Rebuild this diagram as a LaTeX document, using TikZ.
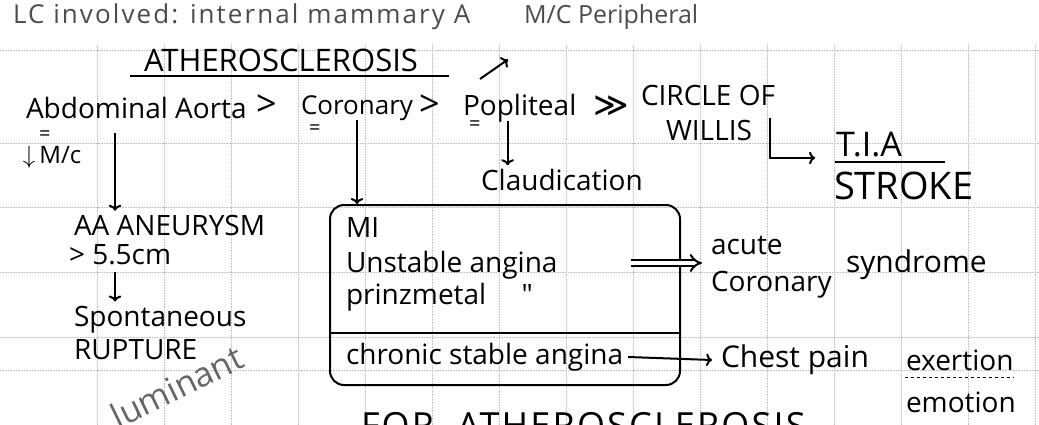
\documentclass[tikz,border=0pt]{standalone}
\usepackage{amsmath}
\usepackage{fontspec}
\usepackage{tikz}
\usetikzlibrary{arrows.meta}
\newfontfamily\handfont{Open Sans}
\newfontfamily\symbfont{DejaVu Sans}

\begin{document}
\begin{tikzpicture}[x=1pt,y=-1pt,>=To,line width=2pt]
\tikzstyle{hw}=[anchor=west,inner sep=0pt,text=black,font=\handfont\fontsize{28}{30}\selectfont]
\tikzstyle{hwbig}=[hw,font=\handfont\fontsize{36}{38}\selectfont]
\tikzstyle{hwsmall}=[hw,font=\handfont\fontsize{20}{22}\selectfont]
\tikzstyle{faded}=[hw,text=black!70,font=\handfont\addfontfeature{LetterSpace=8}\fontsize{26}{28}\selectfont]
\tikzstyle{gridline}=[draw=black!25,line width=0.6pt,densely dotted]
\clip (0,0) rectangle (1039,425);
\fill[white] (0,0) rectangle (1039,425);
% squared paper
\foreach \gx in {97,164,231,298,365,432,499,566,633,700,767,834,901,968,1035}
  \draw[gridline] (\gx,45) -- (\gx,425);
\foreach \gy in {50,143,207,272,337,370}
  \draw[gridline] (0,\gy) -- (1039,\gy);
% top line
\node[faded] (lc) at (12,17) {LC involved: internal mammary A};
\node[faded,font=\handfont\fontsize{25}{27}\selectfont] (mcper) at (523,17) {M/C Peripheral};
\node[hw,font=\handfont\fontsize{31}{33}\selectfont] (title) at (143,60) {ATHEROSCLEROSIS};
\draw ([xshift=-13pt,yshift=-4pt]title.south west) -- ([xshift=30pt,yshift=-4pt]title.south east);
% main row
\node[hw] (aorta) at (25,108) {Abdominal Aorta};
\node[hwbig] (gt1) at (255,106) {>};
\node[hw,font=\handfont\fontsize{26}{28}\selectfont] (coron) at (300,108) {Coronary};
\node[hwbig] (gt2) at (418,106) {>};
\node[hw] (popl) at (462,108) {Popliteal};
\node[hw,font=\symbfont\fontsize{34}{36}\selectfont] (gg) at (592,106) {≫};
\node[hw] (circ) at (640,95) {CIRCLE OF};
\node[hw] (willis) at (665,130) {WILLIS};
\node[hwsmall] (eq1) at (38,136) {=};
\node[hwsmall] (eq2) at (308,130) {=};
\node[hwsmall] (eq3) at (468,126) {=};
\node[hw,font=\handfont\fontsize{24}{26}\selectfont] (mc) at (22,157) {$\downarrow$\,M/c};
% aorta branch
\node[hw] (aneur) at (73,225) {AA ANEURYSM};
\node[hw] (size) at (68,255) {> 5.5cm};
\node[hw] (spont) at (73,320) {Spontaneous};
\node[hw] (rupt) at (73,350) {RUPTURE};
\coordinate (a1) at (115,133);
\draw[->] (a1) -- ([yshift=3pt]a1 |- aneur.north);
\draw[->] (size.south -| a1) ++(0,6) -- ([yshift=4pt]spont.north -| a1);
% popliteal branch
\node[hw] (claud) at (480,180) {Claudication};
\draw[->] ([xshift=-12pt,yshift=2pt]popl.south) -- ([xshift=-12pt,yshift=3pt]popl.south |- claud.north);
\draw[->] ([xshift=18pt,yshift=14pt]popl.north west) -- ([xshift=-15pt,yshift=-29pt]mcper.south west);
% circle of willis
\node[hw,font=\handfont\fontsize{34}{36}\selectfont] (tia) at (835,145) {T.I.A};
\node[hwbig,font=\handfont\fontsize{38}{40}\selectfont] (stroke) at (833,186) {STROKE};
\draw ([yshift=-4pt]tia.south west) -- ([yshift=-4pt,xshift=110pt]tia.south west);
\coordinate (lstart) at (770,118);
\coordinate (lend) at (815,158);
\draw[->] (lstart) |- (lend);
% coronary box
\node[draw,rounded corners=14pt,minimum width=350pt,minimum height=180pt,inner sep=0pt] (box) at (505,295) {};
\draw (box.west |- 0,333) -- (box.east |- 0,333);
\draw[->] ([yshift=2pt]coron.south) -- (coron.south |- box.north);
\node[hw] (mi) at (345,228) {MI};
\node[hw] (unst) at (345,265) {Unstable angina};
\node[hw] (prinz) at (345,297) {prinzmetal \,\,\,\,\,\,{\char"2033}};
\node[hw] (chron) at (345,357) {chronic stable angina};
% outcomes
\node[hw] (acute) at (710,245) {acute};
\node[hw] (acor) at (710,285) {Coronary};
\node[hw,font=\handfont\fontsize{30}{32}\selectfont] (synd) at (845,265) {syndrome};
\draw[double,double distance=4pt,-{Implies}] ([xshift=-50pt]box.east |- 0,263) -- ([xshift=-8pt]acute.west |- 0,263);
\node[hw,font=\handfont\fontsize{30}{32}\selectfont] (chest) at (720,360) {Chest pain};
\node[hw] (exert) at (905,360) {exertion};
\node[hw] (emot) at (905,402) {emotion};
\draw[->] ([xshift=4pt]chron.east) -- ([xshift=-8pt]chest.west);
\draw[dashed,line width=1.2pt] ([yshift=-6pt]exert.south west) -- ([yshift=-6pt]exert.south east);
% bottom, cut by the page edge
\node[hw,text=black!60,rotate=26,font=\handfont\fontsize{34}{36}\selectfont] (lumi) at (112,418) {luminant};
\node[hw,anchor=base west,font=\handfont\addfontfeature{LetterSpace=6}\fontsize{36}{38}\selectfont] (forath) at (360,438) {FOR \ ATHEROSCLEROSIS};
\end{tikzpicture}
\end{document}
